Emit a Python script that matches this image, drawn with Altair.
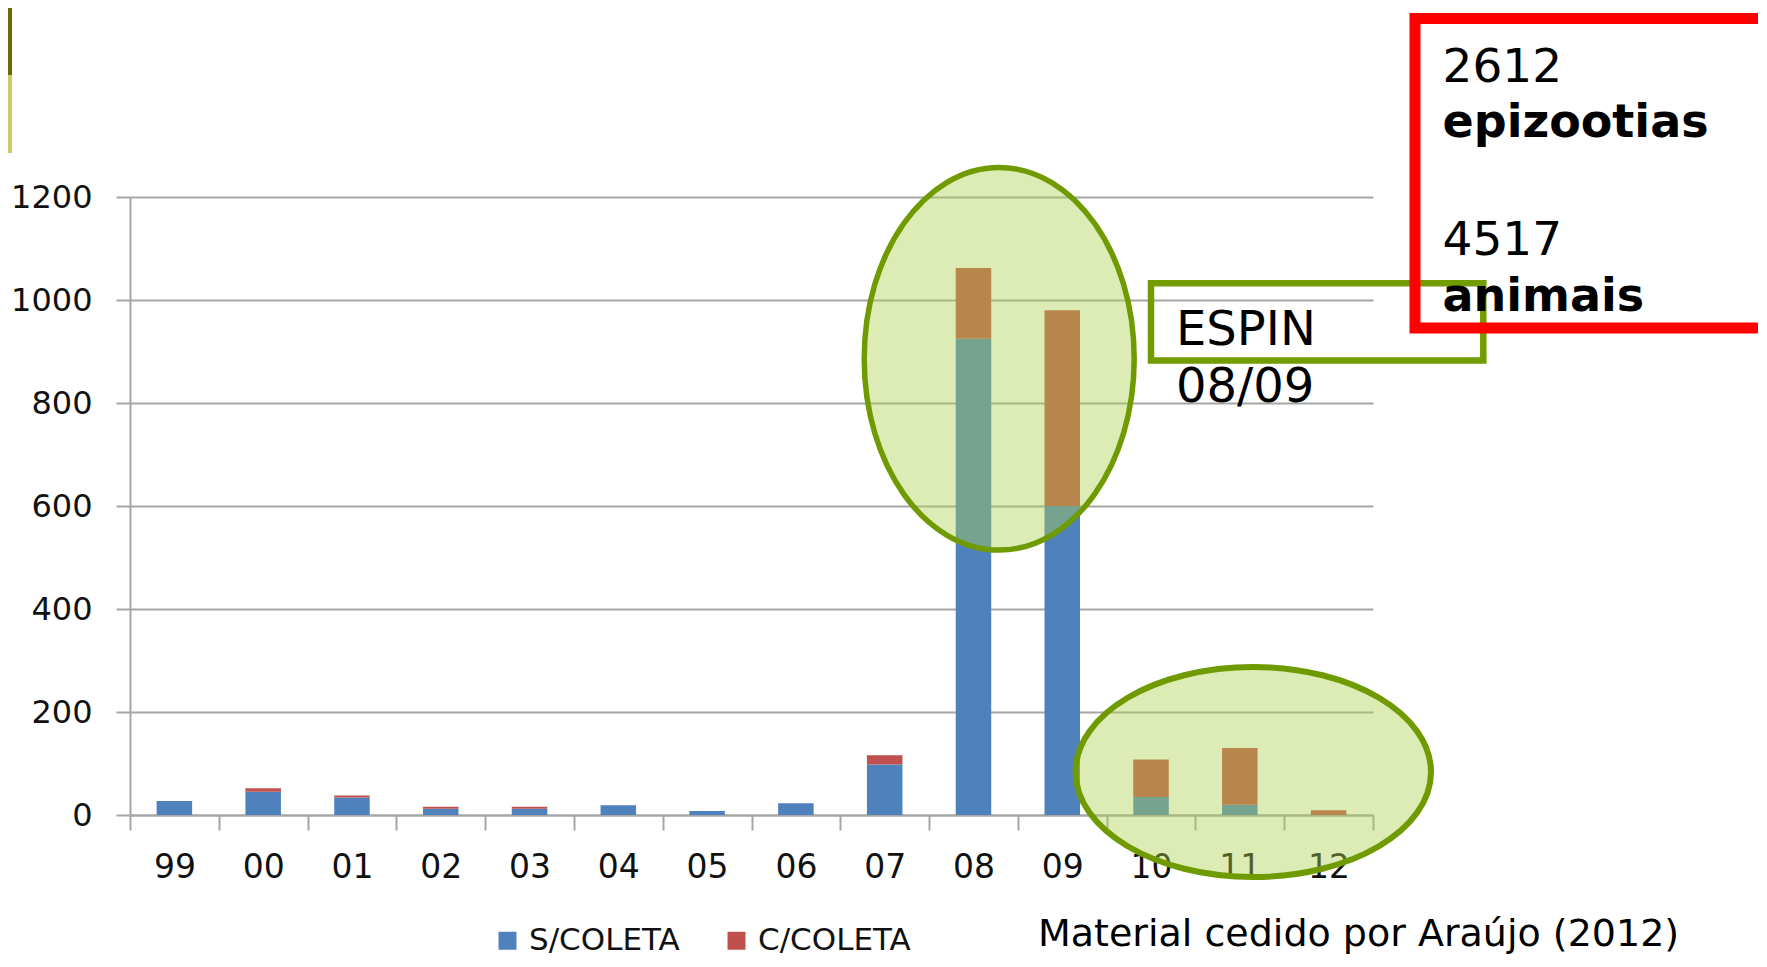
import altair as alt
import pandas as pd

# ---- data ----
anos = ["99", "00", "01", "02", "03", "04", "05", "06", "07", "08", "09", "10", "11", "12"]
s_coleta = [27, 45, 34, 12, 12, 19, 8, 23, 98, 925, 600, 35, 20, 0]
c_coleta = [0, 7, 4, 4, 4, 0, 0, 0, 18, 137, 380, 73, 110, 9]
series = ["S/COLETA", "C/COLETA"]
cores = ["#4f81bd", "#c0504d"]
y_ticks = [0, 200, 400, 600, 800, 1000, 1200]
caixa_numeros = ["2612", "4517"]
caixa_rotulos = ["epizootias", "animais"]
espin_texto = ["ESPIN\n08/09"]
fonte_texto = ["Material cedido por Araújo (2012)"]

rows = []
for i, a in enumerate(anos):
    rows.append({"ano": a, "serie": series[0], "valor": s_coleta[i], "ordem": 0})
    rows.append({"ano": a, "serie": series[1], "valor": c_coleta[i], "ordem": 1})
df = pd.DataFrame(rows)
dummy = pd.DataFrame({"k": [0]})

FONT = "DejaVu Sans"
GRAY = "#a6a6a6"
GREEN = "#6f9a00"

bars = alt.Chart(df).mark_bar(width=alt.RelativeBandSize(0.4)).encode(
    x=alt.X(
        "ano:N", sort=anos, title=None,
        scale=alt.Scale(paddingInner=0, paddingOuter=0),
        axis=alt.Axis(tickBand="extent", tickSize=15, tickColor=GRAY, tickWidth=2,
                      domainColor=GRAY, domainWidth=2, labelFont=FONT, labelFontSize=33,
                      labelColor="#111111", labelPadding=21, labelAngle=0, grid=False),
    ),
    y=alt.Y(
        "valor:Q", stack="zero", title=None,
        scale=alt.Scale(domain=[0, 1200], nice=False),
        axis=alt.Axis(values=y_ticks, format="d", grid=True, gridColor=GRAY, gridWidth=2,
                      tickSize=14, tickColor=GRAY, tickWidth=2, domainColor=GRAY,
                      domainWidth=2, labelFont=FONT, labelFontSize=32,
                      labelColor="#111111", labelPadding=24),
    ),
    color=alt.Color(
        "serie:N", scale=alt.Scale(domain=series, range=cores),
        legend=alt.Legend(orient="none", legendX=362, legendY=728, direction="horizontal",
                          title=None, symbolType="square", symbolSize=324,
                          symbolStrokeWidth=0, labelFont=FONT, labelFontSize=31,
                          labelColor="#111111", labelOffset=6, columnPadding=41, padding=0),
    ),
    order=alt.Order("ordem:Q", sort="ascending"),
)


def elipse(cx, cy, rx, ry, sw):
    path = f"M {-rx} 0 A {rx} {ry} 0 1 0 {rx} 0 A {rx} {ry} 0 1 0 {-rx} 0 Z"
    return alt.Chart(dummy).mark_point(
        shape=path, size=4, filled=True, fill="#aed24e", fillOpacity=0.42,
        stroke=GREEN, strokeWidth=sw, strokeOpacity=1, opacity=1,
    ).encode(x=alt.value(cx), y=alt.value(cy))


def caixa(x, x2, y, y2, cor, sw):
    return alt.Chart(dummy).mark_rect(fill="transparent", stroke=cor, strokeWidth=sw).encode(
        x=alt.value(x), x2=alt.value(x2), y=alt.value(y), y2=alt.value(y2))


def texto(valores, x, y, size, weight="normal", lh=None):
    kw = dict(align="left", baseline="alphabetic", font=FONT, fontSize=size,
              fontWeight=weight, color="#000000")
    if lh is not None:
        kw.update(lineBreak="\n", lineHeight=lh)
    return alt.Chart(pd.DataFrame({"t": valores})).mark_text(**kw).encode(
        text="t:N", x=alt.value(x), y=alt.value(y))


def faixa(x, x2, y, y2, cor):
    return alt.Chart(dummy).mark_rect(fill=cor).encode(
        x=alt.value(x), x2=alt.value(x2), y=alt.value(y), y2=alt.value(y2))


layers = [
    bars,
    elipse(869.2, 161.8, 135, 191.3, 5.5),
    elipse(1123.3, 575, 177.7, 105, 6),
    caixa(1021, 1353.3, 86.3, 163.5, "#739c00", 6.5),
    texto(espin_texto, 1046, 148, 48, lh=56.7),
    caixa(1285, 1700, -178.5, 131, "#ff0000", 11),
    texto([caixa_numeros[0]], 1312.5, -115.3, 47),
    texto([caixa_rotulos[0]], 1312.5, -59.7, 46, "bold"),
    texto([caixa_numeros[1]], 1312.5, 58, 47),
    texto([caixa_rotulos[1]], 1312.5, 113.5, 46, "bold"),
    faixa(-130, -118, -197, -122, "#6b6b05"),
    faixa(-130, -118, -122, -44, "#cccc66"),
    texto(fonte_texto, 908, 749, 38),
]

chart = alt.layer(*layers).properties(
    width=1243, height=618,
    autosize=alt.AutoSizeParams(type="none"),
    padding={"left": 122, "top": 189, "right": 385, "bottom": 143},
    background="white",
).configure_view(stroke=None)

chart.save("out.html", embed_options={"renderer": "svg", "actions": False})
